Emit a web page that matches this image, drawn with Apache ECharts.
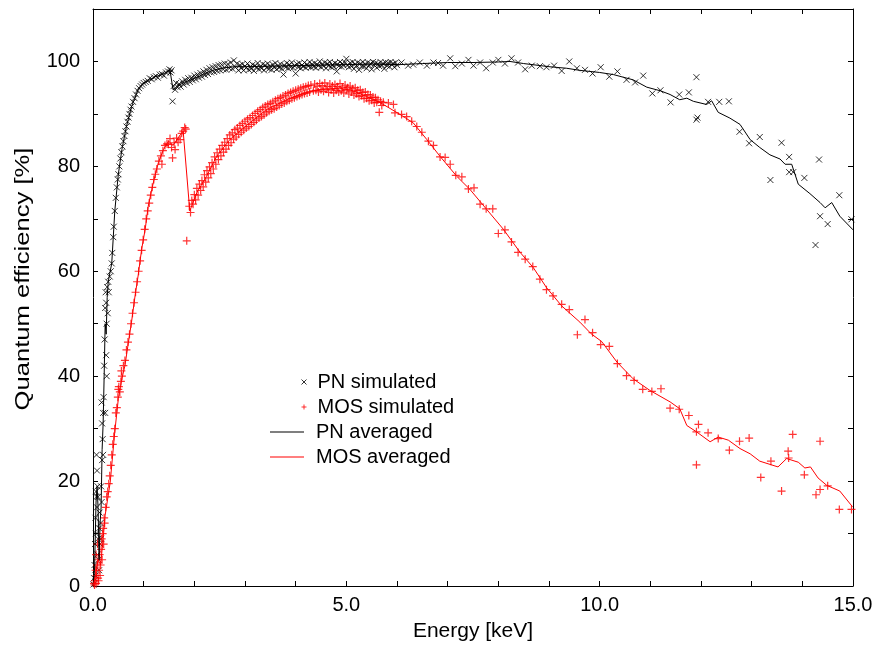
<!DOCTYPE html>
<html><head><meta charset="utf-8">
<script src="https://cdn.jsdelivr.net/npm/echarts@6/dist/echarts.min.js"></script>
<style>html,body{margin:0;padding:0;background:#fff}#c{width:876px;height:647px}</style>
</head><body><div id="c"></div>
<script>
// ---------- data (Energy keV, Quantum efficiency %) ----------
const pnSimulated = [
 [0.01,0.3],[0.02,1.5],[0.03,4],[0.04,8],[0.05,13],[0.05,2],[0.06,18],[0.06,10],[0.07,25],[0.07,17],[0.08,22],[0.08,15],[0.09,19],[0.09,6],[0.1,17],[0.1,9],[0.11,5],[0.12,3],[0.12,11],[0.13,14],[0.14,8],[0.15,12],[0.16,19],[0.16,9],[0.17,16],[0.17,35],[0.18,24],[0.18,31],[0.19,28],[0.2,33],[0.2,25],[0.21,36],[0.22,42],[0.23,47],[0.24,53],[0.24,33],[0.25,56],[0.26,54],[0.26,44],[0.27,40],[0.27,50],[0.28,57],[0.29,52],[0.3,58],
 [0.31,56],[0.33,59],[0.35,60],[0.37,61.5],[0.38,63.5],[0.4,66.5],[0.41,68.5],[0.43,71.5],[0.45,74],[0.47,76],[0.49,77.5],[0.5,78.5],[0.52,80],[0.54,81.5],[0.56,82.7],[0.58,83.8],[0.6,84.8],[0.62,85.8],[0.64,86.7],[0.66,87.6],[0.68,88.5],[0.7,89.3],[0.72,90],[0.74,90.8],[0.76,91.4],[0.79,92.3],[0.82,93],[0.85,93.7],[0.88,94.4],[0.91,94.9],[0.94,95.3],[0.97,95.6],[1.0,95.9],[1.04,96.1],[1.08,96.3],[1.12,96.8],[1.16,96.6],[1.2,97.0],[1.24,97.2],[1.28,96.9],[1.32,97.5],[1.36,97.6],[1.4,97.3],[1.44,97.9],[1.48,98.1],[1.51,98.5],[1.53,97.9],[1.55,98.3],[1.57,92.4],[1.59,95.3],
 [1.62,94.6],[1.64,95.9],[1.67,95.1],[1.7,95.7],[1.73,95.2],[1.76,96.2],[1.79,95.6],[1.82,96.5],[1.85,95.9],[1.88,96.8],[1.91,96.1],[1.94,96.9],[1.97,96.4],[2.0,97.3],[2.03,96.6],[2.06,97.5],[2.09,96.9],[2.12,97.8],[2.15,97.1],[2.18,98.1],[2.21,97.4],[2.24,98.4],[2.27,97.6],[2.3,98.7],[2.33,97.9],[2.36,98.9],[2.39,98.0],[2.42,99.1],[2.45,98.2],[2.48,99.3],[2.51,98.3],[2.54,99.4],[2.57,98.5],[2.6,99.6],[2.63,98.4],[2.66,99.5],[2.69,98.7],[2.72,99.8],[2.75,98.6],[2.78,100.2],[2.81,98.9],[2.84,99.6],[2.87,98.3],[2.9,99.3],
 [2.925,98.7],[2.95,99.5],[2.975,98.3],[3.0,99.1],[3.025,98.8],[3.05,99.6],[3.075,98.4],[3.1,99.0],[3.125,98.6],[3.15,99.4],[3.175,98.2],[3.2,99.2],[3.225,98.9],[3.25,99.7],[3.275,98.5],[3.3,99.0],[3.325,98.7],[3.35,99.5],[3.375,98.3],[3.4,99.3],[3.425,98.8],[3.45,99.6],[3.475,98.6],[3.5,99.1],[3.525,98.4],[3.55,99.4],[3.575,98.9],[3.6,99.7],[3.625,98.5],[3.65,99.2],[3.675,98.8],[3.7,99.5],[3.725,98.6],[3.76,97.5],[3.775,99.3],[3.8,98.9],[3.825,99.7],[3.85,98.7],[3.875,99.4],[3.9,98.9],[3.925,99.8],[3.95,98.8],[3.975,99.2],[4.0,97.7],[4.025,99.5],[4.05,98.9],[4.075,99.7],[4.1,98.7],[4.125,99.3],[4.15,99.0],[4.175,99.8],[4.2,98.8],[4.225,99.4],[4.25,99.1],[4.275,99.9],[4.3,98.9],[4.325,99.5],[4.35,99.0],[4.375,99.7],[4.4,98.8],[4.425,99.4],[4.45,99.2],[4.475,100.0],[4.5,98.9],[4.525,99.5],[4.55,99.1],[4.575,99.8],[4.6,98.7],[4.625,99.6],[4.65,99.2],[4.675,99.9],[4.7,98.9],[4.725,99.4],[4.75,99.0],[4.775,99.7],[4.81,98.1],[4.825,99.5],[4.85,99.1],[4.875,99.9],[4.9,99.0],[4.925,99.6],[4.95,99.2],[4.975,99.8],[5.0,100.5],[5.025,99.3],[5.05,98.9],[5.075,99.7],[5.1,99.1],[5.125,99.9],[5.15,98.6],[5.175,99.5],[5.2,99.2],[5.225,99.8],[5.25,98.4],[5.275,99.6],[5.3,99.1],[5.325,99.9],[5.35,99.0],[5.375,99.5],[5.4,98.7],[5.425,99.8],[5.45,99.2],[5.475,99.6],[5.5,98.5],[5.525,99.9],[5.55,99.3],[5.575,99.7],[5.6,98.8],[5.625,99.5],[5.65,99.1],[5.675,99.9],[5.7,99.3],[5.725,99.6],[5.75,98.6],[5.775,99.8],[5.8,99.2],[5.825,99.7],[5.85,99.0],[5.875,99.9],[5.9,99.4],[5.925,99.6],[5.95,98.9],[5.975,99.8],[6.0,99.3],
 [6.09,99.8],[6.22,99.2],[6.32,99.4],[6.45,99.8],[6.59,99.2],[6.72,99.8],[6.81,99.7],[6.91,99.2],[7.05,100.6],[7.15,99.1],[7.28,99.6],[7.41,100.3],[7.51,99.2],[7.64,99.8],[7.76,98.7],[7.89,99.8],[8.0,100.3],[8.13,99.6],[8.26,100.6],[8.39,99.8],[8.53,98.5],[8.66,99.2],[8.82,99.1],[8.95,98.9],[9.1,99.2],[9.25,98.2],[9.4,100.0],[9.55,98.7],[9.71,98.4],[9.86,97.7],[10.02,98.9],[10.19,97.1],[10.35,98.1],[10.53,96.5],[10.7,96.0],[10.86,97.3],
 [11.04,93.9],[11.2,94.5],[11.4,92.2],[11.57,93.7],[11.76,94.1],[11.91,97.0],[11.91,88.9],[11.93,89.3],[12.14,92.3],[12.36,92.3],[12.55,92.4],[12.76,86.6],[12.95,84.4],[13.16,85.6],[13.37,77.4],[13.59,84.5],[13.74,81.8],[13.74,78.9],[13.82,78.9],[14.04,77.8],[14.26,65.0],[14.33,81.3],[14.35,70.5],[14.5,69.0],[14.73,74.5],[14.97,69.9]
];
const mosSimulated = [
 [0.02,0.5],[0.03,0.2],[0.04,1],[0.05,3],[0.06,6],[0.06,0.5],[0.07,2],[0.08,4],[0.09,8],[0.1,5],[0.1,1.5],[0.11,1],[0.12,3],[0.13,6],[0.14,2],[0.15,4],[0.16,7],[0.17,9],[0.18,5],[0.19,10],[0.2,11],[0.21,8],[0.22,13],[0.23,12],[0.25,15],[0.27,17],[0.29,18],[0.31,19.5],[0.33,21],[0.35,23],[0.37,25],[0.39,27],[0.41,28.5],[0.43,30],[0.45,33],[0.47,34],[0.49,36],[0.5,37.5],[0.51,38],[0.53,37],[0.55,39],[0.56,41],[0.57,40],[0.6,42],[0.63,43],[0.66,45],[0.69,46.5],[0.72,48],[0.75,50],[0.78,52],[0.81,54],[0.84,56],[0.87,58],[0.9,60],[0.93,62],[0.96,64],[0.99,66],[1.02,68],[1.05,70],[1.08,71.5],[1.11,73],[1.14,74.5],[1.17,76],[1.2,77.5],[1.23,78.5],[1.26,79.5],[1.3,81],[1.34,82],[1.36,80.4],[1.38,83],[1.42,84],[1.46,84.3],[1.49,84.2],[1.52,85.3],[1.55,83.6],[1.57,81.6],[1.6,84.5],[1.62,83.2],[1.65,85.4],[1.68,84.6],[1.72,85.1],[1.75,86.3],[1.78,86.7],[1.81,87.4],[1.83,87.1],[1.85,65.8],
 [1.9,72.4],[1.925,71.2],[1.95,73.5],[1.975,72.8],[2.0,74.6],[2.025,73.6],[2.05,75.8],[2.075,74.5],[2.1,76.6],[2.125,75.4],[2.15,77.3],[2.175,76.1],[2.2,78.4],[2.225,77.0],[2.25,79.2],[2.275,77.8],[2.3,79.9],[2.325,78.6],[2.35,80.7],[2.375,79.5],[2.4,81.8],[2.425,80.4],[2.45,82.6],[2.475,81.3],[2.5,83.3],[2.525,82.0],[2.55,84.0],[2.575,82.7],[2.6,84.6],[2.625,83.3],[2.65,85.3],[2.675,84.0],[2.7,86.0],[2.725,84.5],[2.75,86.4],[2.775,85.2],[2.8,87.0],[2.825,85.6],[2.85,87.3],[2.875,86.1],[2.9,87.8],[2.925,86.5],[2.95,88.2],[2.975,86.9],[3.0,88.6],[3.025,87.3],[3.05,89.0],[3.075,87.6],[3.1,89.3],[3.125,88.0],[3.15,89.7],[3.175,88.4],[3.2,90.1],[3.225,88.8],[3.25,90.5],[3.275,89.2],[3.3,90.8],[3.325,89.5],[3.35,91.2],[3.375,89.8],[3.4,91.5],[3.425,90.2],[3.45,91.8],[3.475,90.5],[3.5,92.0],[3.525,90.8],[3.55,92.3],[3.575,91.0],[3.6,92.6],[3.625,91.3],[3.65,92.9],[3.675,91.6],[3.7,93.1],[3.725,91.9],[3.75,93.4],[3.775,92.1],[3.8,93.6],[3.825,92.4],[3.85,93.9],[3.875,92.6],[3.9,94.1],[3.925,92.9],[3.95,94.3],[3.975,93.1],[4.0,94.5],[4.025,93.3],[4.05,94.7],[4.075,93.5],[4.1,94.9],[4.125,93.7],[4.15,95.1],[4.175,93.9],[4.2,95.2],[4.225,94.0],[4.25,95.4],[4.275,94.2],[4.3,95.5],[4.35,94.4],[4.375,95.7],[4.4,94.5],[4.425,95.3],[4.45,94.2],[4.475,95.8],[4.5,94.6],[4.525,95.4],[4.55,94.3],[4.575,95.9],[4.6,94.7],[4.625,95.2],[4.65,94.1],[4.675,95.7],[4.7,94.6],[4.725,95.3],[4.75,94.0],[4.775,95.6],[4.8,94.5],[4.825,95.2],[4.85,94.2],[4.875,95.8],[4.9,94.4],[4.925,95.1],[4.95,94.0],[4.975,95.5],[5.0,94.6],[5.025,95.0],[5.05,93.8],[5.075,95.3],[5.1,94.2],[5.125,94.8],[5.15,93.6],[5.175,95.0],[5.2,93.9],[5.225,94.5],[5.25,93.3],[5.275,94.6],[5.3,93.5],[5.325,94.1],[5.35,92.9],[5.375,94.2],[5.4,93.0],[5.425,93.7],[5.45,92.5],[5.475,93.6],[5.5,92.6],[5.525,93.2],[5.55,92.1],[5.575,93.1],[5.6,92.2],[5.625,92.7],[5.65,90.3],[5.675,92.4],[5.7,91.6],
 [5.73,92.2],[5.83,92.1],[5.93,91.8],[5.96,90.2],[6.09,89.9],[6.19,89.5],[6.29,88.6],[6.39,87.6],[6.49,86.5],[6.62,84.8],[6.72,84.0],[6.85,81.8],[6.95,81.7],[7.05,80.4],[7.16,78.3],[7.28,78.0],[7.41,75.7],[7.52,75.9],[7.64,72.8],[7.76,71.9],[7.89,71.9],[8.0,67.2],[8.13,67.9],[8.26,65.6],[8.39,63.6],[8.53,62.3],[8.68,60.9],[8.82,58.5],[8.95,56.5],[9.08,55.3],[9.25,53.7],[9.4,52.7],[9.56,47.9],[9.71,50.8],[9.86,48.3],[10.02,46.0],[10.19,45.7],[10.35,42.4],[10.53,40.1],
 [10.68,39.2],[10.85,37.5],[11.03,37.1],[11.21,37.6],[11.39,33.9],[11.57,33.7],[11.76,32.5],[11.95,30.8],[11.91,29.4],[11.91,23.1],[12.14,29.2],[12.34,28.1],[12.56,25.9],[12.76,27.6],[12.95,28.2],[13.18,20.7],[13.38,23.8],[13.59,18.1],[13.72,25.7],[13.73,24.4],[13.81,28.9],[14.04,21.2],[14.27,17.4],[14.35,18.4],[14.35,27.6],[14.5,19.1],[14.73,14.6],[14.97,14.6]
];
const pnAveraged = [
 [0.0,0],[0.03,3],[0.06,16],[0.08,19],[0.1,15],[0.12,5],[0.14,12],[0.16,15],[0.18,26],[0.2,31],[0.22,40],[0.24,50],[0.26,48],[0.28,55],[0.3,58],[0.37,61.5],[0.4,66.5],[0.43,71.5],[0.5,78.5],[0.57,83.2],[0.66,87.6],[0.76,91.4],[0.89,94.6],[1.0,95.9],[1.09,96.3],[1.2,97.0],[1.36,97.5],[1.52,98.3],[1.58,94.6],[1.7,95.5],[1.8,96.0],[1.9,96.4],[2.0,96.8],[2.1,97.2],[2.2,97.7],[2.3,98.1],[2.4,98.4],[2.5,98.6],[2.6,98.8],[2.8,99.0],[3.0,99.0],[3.5,99.1],[4.0,99.2],[4.5,99.3],[5.0,99.4],[5.5,99.5],[6.06,99.4],[6.5,99.6],[7.0,99.8],[7.5,99.8],[8.0,99.9],[8.23,100.0],[8.5,99.6],[9.0,99.0],[9.35,98.7],[9.61,98.3],[10.0,97.9],[10.27,97.5],[10.66,96.5],[10.93,95.1],[11.2,94.4],[11.39,93.7],[11.58,92.7],[11.72,93.0],[11.85,92.4],[12.11,91.8],[12.21,92.5],[12.34,90.3],[12.57,89.2],[12.77,88.0],[12.97,85.1],[13.16,83.6],[13.36,82.2],[13.56,81.4],[13.66,80.4],[13.79,80.4],[13.92,76.6],[14.15,74.8],[14.35,73.1],[14.45,72.1],[14.58,73.1],[14.74,70.5],[15.0,67.9]
];
const mosAveraged = [
 [0,0],[0.05,2],[0.1,5],[0.15,4],[0.2,9],[0.24,13.5],[0.34,19.8],[0.43,29.4],[0.5,35.7],[0.57,39.5],[0.63,42],[0.7,46.5],[0.76,50.3],[0.83,55.3],[0.89,59.1],[0.96,64.2],[1.03,68],[1.09,72.4],[1.16,75.6],[1.22,78.1],[1.29,80.7],[1.39,83.2],[1.49,84.8],[1.58,84],[1.65,85],[1.72,86],[1.78,86.7],[1.91,71.5],[2.05,75],[2.24,78.1],[2.44,81.9],[2.7,85.1],[3.03,87.8],[3.42,90.8],[3.82,92.7],[4.22,94.1],[4.5,94.7],[4.87,94.9],[5.14,94.4],[5.4,93.3],[5.66,92.2],[6.06,89.9],[6.32,88.3],[6.59,85.1],[6.85,81.9],[7.18,78.1],[7.44,75.6],[7.77,71.8],[8.1,68],[8.43,63.6],[8.69,60.7],[8.95,56.9],[9.25,53.4],[9.61,50.3],[9.83,48.1],[10.04,46.6],[10.34,42.7],[10.66,39.5],[10.99,37.3],[11.39,35.1],[11.58,33.8],[11.72,30.6],[11.91,29.4],[12.18,27.5],[12.34,28.4],[12.54,27.8],[12.77,26.2],[12.97,25.2],[13.16,23.8],[13.52,22.7],[13.69,24.3],[13.92,23.6],[14.05,22.5],[14.16,22.7],[14.31,20.6],[14.48,19.2],[14.74,18.1],[14.99,15.1]
];
const seriesNames = ['PN simulated','MOS simulated','PN averaged','MOS averaged'];
const xLabelEvery = 5;   // labels 0.0, 5.0, 10.0, 15.0
const yLabelEvery = 20;  // labels 0..100

// ---------- chart ----------
const FONT = '"Liberation Sans", Arial, Helvetica, sans-serif';
const CROSS = 'path://M0,0L10,10M10,0L0,10';
const PLUS = 'path://M5,0L5,10M0,5L10,5';
const chart = echarts.init(document.getElementById('c'), null, {renderer:'canvas'});
const axisLine = {show:true, onZero:false, lineStyle:{color:'#000', width:1}};
const tick = {show:true, inside:true, length:5, lineStyle:{color:'#000', width:1}};
const xBase = {type:'value', min:0, max:15, interval:1, axisLine, axisTick:tick, splitLine:{show:false}};
const yBase = {type:'value', min:0, max:110, interval:10, axisLine, axisTick:tick, splitLine:{show:false}};
chart.setOption({
  animation:false,
  backgroundColor:'#fff',
  grid:{left:93, right:23, top:9, bottom:59, containLabel:false},
  xAxis:[
    Object.assign({}, xBase, {position:'bottom',
      axisLabel:{margin:9, fontSize:20, color:'#000', fontFamily:FONT,
        formatter:v => (Math.round(v) % xLabelEvery === 0 ? v.toFixed(1) : '')},
      name:'Energy [keV]', nameLocation:'middle', nameGap:35,
      nameTextStyle:{fontSize:21, color:'#000', fontFamily:FONT}}),
    Object.assign({}, xBase, {position:'top', axisLabel:{show:false}})
  ],
  yAxis:[
    Object.assign({}, yBase, {position:'left',
      axisLabel:{margin:13, fontSize:20, color:'#000', fontFamily:FONT,
        formatter:v => (Math.round(v) % yLabelEvery === 0 ? String(v) : '')}}),
    Object.assign({}, yBase, {position:'right', axisLabel:{show:false}})
  ],
  legend:[
    {orient:'vertical', left:301, top:372, padding:0, itemGap:5, itemWidth:5, itemHeight:5,
     textStyle:{fontSize:20, lineHeight:20, color:'#000', fontFamily:FONT, padding:[0,0,0,6]},
     data:[
       {name:seriesNames[0], icon:CROSS, itemStyle:{color:'#000', borderColor:'#000', borderWidth:1}},
       {name:seriesNames[1], icon:PLUS, itemStyle:{color:'#f00', borderColor:'#f00', borderWidth:1}}
     ]},
    {orient:'vertical', left:270, top:422, padding:0, itemGap:5, itemWidth:34, itemHeight:1,
     textStyle:{fontSize:20, lineHeight:20, color:'#000', fontFamily:FONT, padding:[0,0,0,7]},
     data:[
       {name:seriesNames[2], icon:'rect', itemStyle:{color:'#000', borderWidth:0}},
       {name:seriesNames[3], icon:'rect', itemStyle:{color:'#f00', borderWidth:0}}
     ]}
  ],
  graphic:[{type:'text', x:23, y:279, rotation:Math.PI/2, scaleX:1.22,
    style:{text:'Quantum efficiency [%]', font:'21px ' + FONT, fill:'#000', align:'center', verticalAlign:'middle'}}],
  series:[
    {name:seriesNames[0], type:'scatter', data:pnSimulated, symbol:CROSS, symbolSize:6,
     itemStyle:{color:'#000', borderColor:'#000', borderWidth:1}, silent:true},
    {name:seriesNames[1], type:'scatter', data:mosSimulated, symbol:PLUS, symbolSize:8,
     itemStyle:{color:'#f00', borderColor:'#f00', borderWidth:1.2}, silent:true},
    {name:seriesNames[2], type:'line', data:pnAveraged, showSymbol:false, symbol:'none',
     lineStyle:{color:'#000', width:1}, itemStyle:{color:'#000'}, silent:true},
    {name:seriesNames[3], type:'line', data:mosAveraged, showSymbol:false, symbol:'none',
     lineStyle:{color:'#f00', width:1}, itemStyle:{color:'#f00'}, silent:true}
  ]
});
</script></body></html>
